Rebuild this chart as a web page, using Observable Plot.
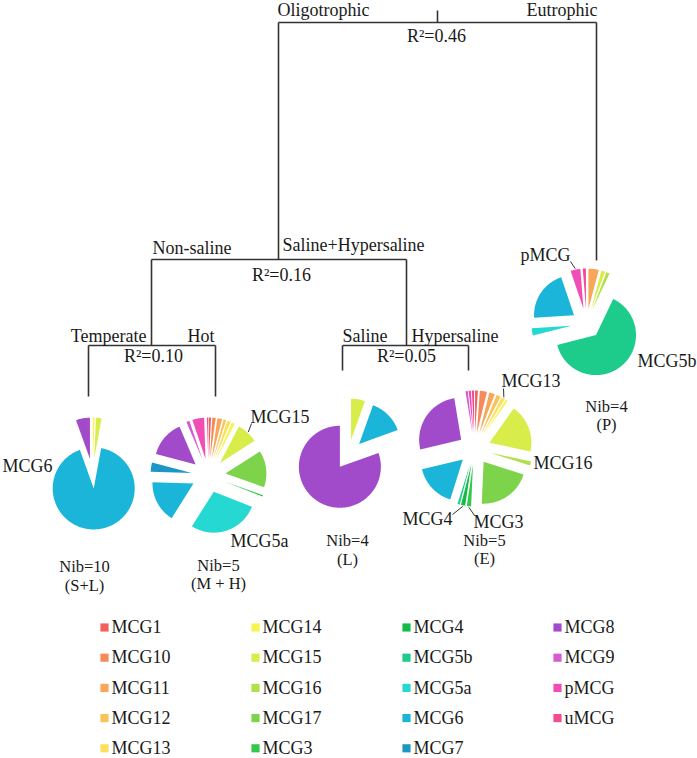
<!DOCTYPE html>
<html><head><meta charset="utf-8">
<script src="https://cdn.jsdelivr.net/npm/d3@7"></script>
<script src="https://cdn.jsdelivr.net/npm/@observablehq/plot@0.6"></script>
<style>body{margin:0;background:#fff} svg{display:block} svg text{font-family:"Liberation Serif","Times New Roman",serif !important;}</style>
</head><body><div id="chart"></div>
<script>
// ---------- data ----------
const categories = ["MCG1","MCG10","MCG11","MCG12","MCG13","MCG14","MCG15","MCG16","MCG17","MCG3","MCG4","MCG5b","MCG5a","MCG6","MCG7","MCG8","MCG9","pMCG","uMCG"];
const palette = ["#f2605c","#f58a5c","#f7a65a","#fac35a","#fde05a","#f6f550","#d8ec4a","#b2e04a","#7dd44a","#33c84c","#14bb47","#1dcc8a","#26d8d2","#1bb5da","#1b97c6","#a14bcb","#d45cd0","#f04eb4","#f24d93"];
// relative abundance per group, in category order
const valuesSL = [0,0,0,0,0,0.7,2.2,0,0,0,0,0,0,91.6,0,5.5,0,0,0];
const valuesMH = [0.8,1.3,1.8,1,1.3,1.2,8,0,14,0.6,0,0,27,16,3.5,14,1.2,4.5,0.5];
const valuesL  = [0,0,0,0,0,0,5.5,0,0,0,0,0,0,14,0,80.5,0,0,0];
const valuesE  = [1,2.5,2,1.5,1.2,0.8,17,1.5,19,1.5,1.5,0.8,0,15,0,24,0.8,0.8,0.8];
const valuesP  = [0,0,4,0,0,0,1.5,1.3,0,0,0,61.5,2.8,20,0,0,0,3.8,1.2];
const nibLabels = ["Nib=10","Nib=5","Nib=4","Nib=5","Nib=4"];
const groupLabels = ["(S+L)","(M + H)","(L)","(E)","(P)"];
const splitLabels = [["Oligotrophic","Eutrophic"],["Non-saline","Saline+Hypersaline"],["Temperate","Hot"],["Saline","Hypersaline"]];
const r2Labels = ["R²=0.46","R²=0.16","R²=0.10","R²=0.05"];

// ---------- layout ----------
const W = 697, H = 758;
const font = "Liberation Serif";
const FS = 18;
const pies = [
  {values: valuesSL, cx: 92,  cy: 473, r: 41, d: 15, lx: 84,  ly: 575},
  {values: valuesMH, cx: 208, cy: 475, r: 41, d: 17, lx: 218, ly: 573.5},
  {values: valuesL,  cx: 348, cy: 454, r: 41, d: 15, lx: 347, ly: 549},
  {values: valuesE,  cx: 474, cy: 448, r: 42, d: 16, lx: 484, ly: 548.5},
  {values: valuesP,  cx: 586, cy: 323, r: 40, d: 15, lx: 606, ly: 414.5}
];
// annotated slices: pie index, category, label position/anchor, leader end (null = no leader)
const callouts = [
  {pie: 0, cat: "MCG6",  x: 52,  y: 466, anchor: "end",   lead: null},
  {pie: 1, cat: "MCG15", x: 250, y: 417, anchor: "start", lead: [251, 423]},
  {pie: 1, cat: "MCG5a", x: 230, y: 541, anchor: "start", lead: null},
  {pie: 3, cat: "MCG13", x: 501, y: 381, anchor: "start", lead: [503, 388]},
  {pie: 3, cat: "MCG16", x: 533, y: 463, anchor: "start", lead: null},
  {pie: 3, cat: "MCG4",  x: 452, y: 519, anchor: "end",   lead: [452, 514]},
  {pie: 3, cat: "MCG3",  x: 473, y: 522, anchor: "start", lead: [474, 515]},
  {pie: 4, cat: "pMCG",  x: 570, y: 255, anchor: "end",   lead: [570, 261]},
  {pie: 4, cat: "MCG5b", x: 637, y: 361, anchor: "start", lead: null}
];
// tree splits
const splits = [
  {sx: 437, sy: 22,  top: 10,  x1: 278, x2: 596, e1: 259, e2: 260,
   labels: [{x: 277, y: 10, a: "start"}, {x: 597, y: 10, a: "end"}], r2: {x: 436, y: 36}},
  {sx: 278, sy: 259, top: 259, x1: 151, x2: 406, e1: 345, e2: 345,
   labels: [{x: 152, y: 248, a: "start"}, {x: 282, y: 245, a: "start"}], r2: {x: 281, y: 275}},
  {sx: 151, sy: 345, top: 345, x1: 88,  x2: 215, e1: 396, e2: 396,
   labels: [{x: 146, y: 336, a: "end"}, {x: 214, y: 336, a: "end"}], r2: {x: 153, y: 356}},
  {sx: 406, sy: 345, top: 345, x1: 342, x2: 468, e1: 370, e2: 370,
   labels: [{x: 342, y: 336, a: "start"}, {x: 411, y: 336, a: "start"}], r2: {x: 406, y: 356}}
];

// ---------- derived geometry ----------
const wedges = [];
const sliceInfo = {};
pies.forEach((p, pi) => {
  const rows = categories.map((c, i) => ({cat: c, v: p.values[i]})).filter(d => d.v > 0);
  const arcs = d3.pie().sort(null).value(d => d.v)(rows);
  arcs.forEach(a => {
    const mid = (a.startAngle + a.endAngle) / 2;
    const ax = p.cx + p.d * Math.sin(mid), ay = p.cy - p.d * Math.cos(mid);
    const id = pi + "-" + a.data.cat;
    sliceInfo[id] = {ox: ax + (p.r + 1) * Math.sin(mid), oy: ay - (p.r + 1) * Math.cos(mid)};
    wedges.push({id, cat: a.data.cat, x: ax, y: ay});
    const n = Math.max(2, Math.ceil((a.endAngle - a.startAngle) / (Math.PI / 180)));
    for (let k = 0; k <= n; k++) {
      const t = a.startAngle + (a.endAngle - a.startAngle) * k / n;
      wedges.push({id, cat: a.data.cat, x: ax + p.r * Math.sin(t), y: ay - p.r * Math.cos(t)});
    }
  });
});

const segs = [];
splits.forEach(s => {
  if (s.top < s.sy) segs.push({x1: s.sx, y1: s.top, x2: s.sx, y2: s.sy});
  segs.push({x1: s.x1, y1: s.sy, x2: s.x2, y2: s.sy});
  segs.push({x1: s.x1, y1: s.sy, x2: s.x1, y2: s.e1});
  segs.push({x1: s.x2, y1: s.sy, x2: s.x2, y2: s.e2});
});
const splitText = splits.flatMap((s, i) => s.labels.map((l, j) => ({...l, text: splitLabels[i][j]})));
const r2Text = splits.map((s, i) => ({...s.r2, text: r2Labels[i]}));
const nibText = pies.map((p, i) => ({x: p.lx, y: p.ly, text: nibLabels[i] + "\n" + groupLabels[i]}));
const leaders = callouts.filter(c => c.lead).map(c => {
  const s = sliceInfo[c.pie + "-" + c.cat];
  return {x1: s.ox, y1: s.oy, x2: c.lead[0], y2: c.lead[1]};
});
const legendRows = categories.map((c, i) => ({cat: c, col: Math.floor(i / 5), row: i % 5}))
  .map(d => ({...d, x: 104 + d.col * 151, y: 627 + d.row * 30.2}));

const txt = {fontSize: FS, fill: "#1a1a1a", fontFamily: font};
const chart = Plot.plot({
  width: W, height: H, margin: 0,
  x: {domain: [0, W], range: [0, W], axis: null},
  y: {domain: [0, H], range: [0, H], axis: null},
  color: {type: "ordinal", domain: categories, range: palette},
  style: {fontFamily: font, background: "#fff", overflow: "visible"},
  marks: [
    Plot.link(segs, {x1: "x1", y1: "y1", x2: "x2", y2: "y2", stroke: "#333", strokeWidth: 1.6}),
    Plot.line(wedges, {x: "x", y: "y", z: "id", fill: "cat", stroke: "none", curve: "linear-closed"}),
    Plot.link(leaders, {x1: "x1", y1: "y1", x2: "x2", y2: "y2", stroke: "#333", strokeWidth: 1}),
    Plot.text(splitText.filter(d => d.a === "start"), {x: "x", y: "y", text: "text", textAnchor: "start", ...txt}),
    Plot.text(splitText.filter(d => d.a === "end"), {x: "x", y: "y", text: "text", textAnchor: "end", ...txt}),
    Plot.text(r2Text, {x: "x", y: "y", text: "text", ...txt}),
    Plot.text(nibText, {x: "x", y: "y", text: "text", ...txt, fontSize: 16.5, lineHeight: 1.12}),
    Plot.text(callouts.filter(c => c.anchor === "start"), {x: "x", y: "y", text: "cat", textAnchor: "start", ...txt}),
    Plot.text(callouts.filter(c => c.anchor === "end"), {x: "x", y: "y", text: "cat", textAnchor: "end", ...txt}),
    Plot.dot(legendRows, {x: "x", y: "y", fill: "cat", symbol: "square", r: 4.6}),
    Plot.text(legendRows, {x: d => d.x + 7, y: "y", text: "cat", textAnchor: "start", ...txt})
  ]
});
document.getElementById("chart").append(chart);
</script>
</body></html>
